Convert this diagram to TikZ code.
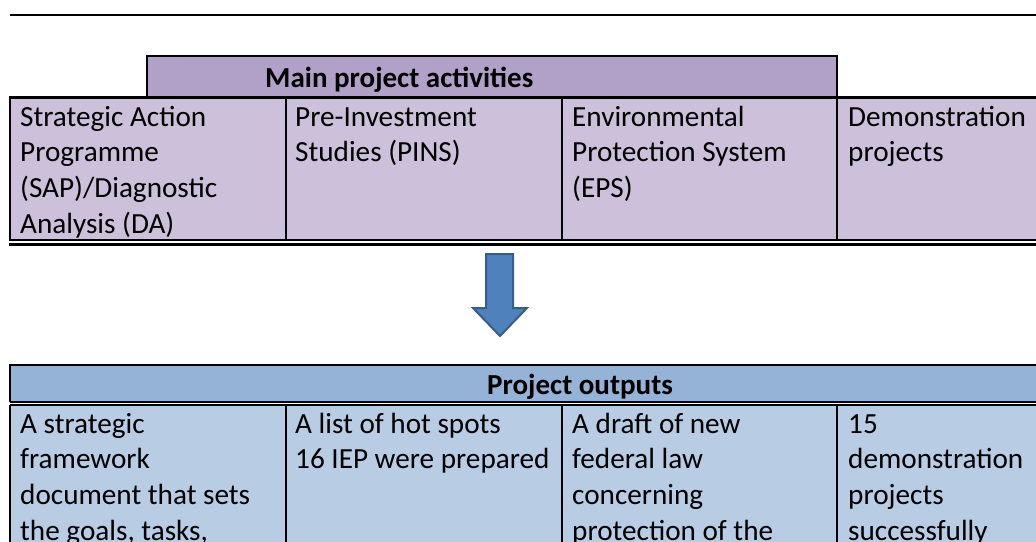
\documentclass[tikz,border=0pt]{standalone}
\usepackage{fontspec}
\setmainfont{Carlito}
\definecolor{purplehead}{HTML}{B1A0C7}
\definecolor{purplecell}{HTML}{CCC0DA}
\definecolor{bluehead}{HTML}{95B3D7}
\definecolor{bluecell}{HTML}{B8CCE4}
\definecolor{arrowfill}{HTML}{4F81BD}
\definecolor{arrowline}{HTML}{385D8A}
\tikzset{
  celltext/.style={anchor=base west, inner sep=0pt, font=\fontsize{29.2}{35.7}\selectfont},
  headtext/.style={anchor=base west, inner sep=0pt, font=\fontsize{29}{35.7}\selectfont\bfseries},
  thinrule/.style={line width=1.5pt},
  thickrule/.style={line width=3pt},
}
\newcommand{\celllines}[1]{\parbox[t]{270pt}{\raggedright #1}}
\begin{document}
\begin{tikzpicture}[x=1pt,y=-1pt]
\useasboundingbox (0,0) rectangle (1036,541);
\clip (0,0) rectangle (1036,541);
% top rule
\draw[line width=2pt] (10,15) -- (1036,15);
% activities header
\fill[purplehead] (147,56) rectangle (837,96);
\draw[line width=2.5pt] (147,96) -- (147,56) -- (837,56) -- (837,96);
\node[headtext] (acthead) at (265,87) {Main project activities};
% activities row
\fill[purplecell] (10,96) rectangle (1040,240);
\draw[thinrule] (10,96) -- (10,240) -- (1040,240);
\draw[thinrule] (286,96) -- (286,240);
\draw[thinrule] (562,96) -- (562,240);
\draw[thinrule] (837,96) -- (837,240);
\draw[thickrule] (9,97) -- (1040,97);
\draw[thickrule] (9,244) -- (1040,244);
\node[celltext] (a1) at (20,126) {\celllines{Strategic Action\\Programme\\(SAP)/Diagnostic\\Analysis (DA)}};
\node[celltext] (a2) at (295,126) {\celllines{Pre-Investment\\Studies (PINS)}};
\node[celltext] (a3) at (572,126) {\celllines{Environmental\\Protection System\\(EPS)}};
\node[celltext] (a4) at (848,126) {\celllines{Demonstration\\projects}};
% arrow
\filldraw[fill=arrowfill, draw=arrowline, line width=2pt, line join=miter]
  (486,254) -- (513,254) -- (513,308) -- (527,308) -- (500,336) -- (473,308) -- (486,308) -- cycle;
% outputs header
\fill[bluehead] (10,365) rectangle (1040,402);
\draw[line width=2pt] (10,402) -- (10,365) -- (1040,365);
\draw[thinrule] (10,402) -- (1040,402);
\node[headtext] (outhead) at (487,394) {Project outputs};
% outputs row
\fill[bluecell] (10,405) rectangle (1040,545);
\draw[line width=2pt] (10,405) -- (1040,405);
\draw[thinrule] (10,405) -- (10,545);
\draw[thinrule] (286,405) -- (286,545);
\draw[thinrule] (562,405) -- (562,545);
\draw[thinrule] (837,405) -- (837,545);
\node[celltext] (o1) at (20,433) {\celllines{A strategic\\framework\\document that sets\\the goals, tasks,}};
\node[celltext] (o2) at (295,433) {\celllines{A list of hot spots\\16 IEP were prepared}};
\node[celltext] (o3) at (572,433) {\celllines{A draft of new\\federal law\\concerning\\protection of the}};
\node[celltext] (o4) at (848,433) {\celllines{15\\demonstration\\projects\\successfully}};
\end{tikzpicture}
\end{document}
